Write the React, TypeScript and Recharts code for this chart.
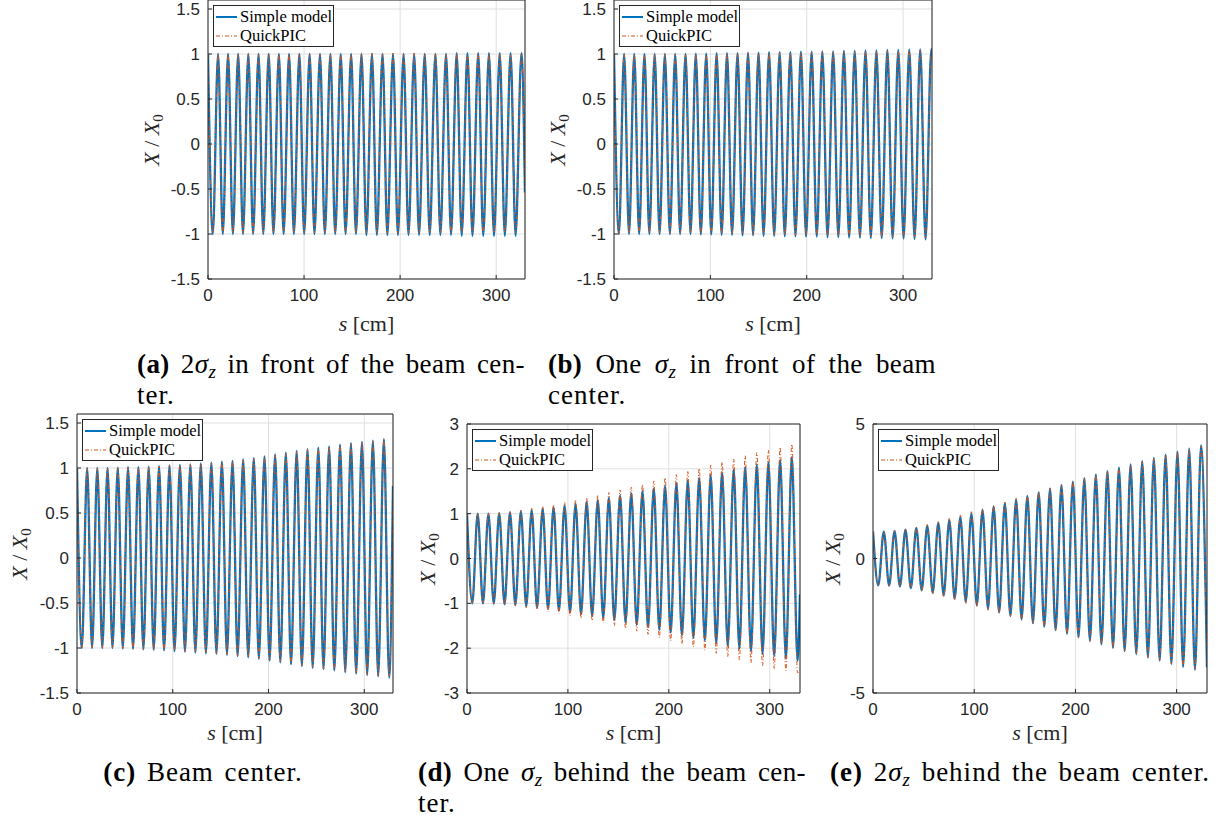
import React from "react";
import { LineChart, Line, XAxis, YAxis, CartesianGrid } from "recharts";

const BLUE = "#0072BD";
const ORANGE = "#D95319";
const INK = "#262626";
const GRID = "#dfdfdf";
const SERIF = '"Liberation Serif", "Times New Roman", serif';
const SANS = '"Liberation Sans", Arial, Helvetica, sans-serif';

const sTicks = [0, 100, 200, 300];
const ticksSmall = [-1.5, -1, -0.5, 0, 0.5, 1, 1.5];
const ticksD = [-3, -2, -1, 0, 1, 2, 3];
const ticksE = [-5, 0, 5];

// s [cm] of successive extrema (peak, trough, peak, ...), last entry = right edge
// (a) 2 sigma_z in front
const posA = [
	0, 5.0, 10.5, 15.4, 20.9, 25.9, 31.4, 36.4, 42.0, 46.9, 52.6, 57.5, 63.2, 68.1, 73.8, 78.7,
	84.4, 89.4, 95.1, 100.1, 105.8, 110.8, 116.6, 121.6, 127.4, 132.4, 138.2, 143.2, 149.0, 154.0,
	159.8, 164.9, 170.7, 175.8, 181.7, 186.7, 192.6, 197.7, 203.6, 208.7, 214.6, 219.7, 225.6, 230.8,
	236.7, 241.9, 247.8, 253.0, 258.9, 264.1, 270.1, 275.3, 281.3, 286.5, 292.5, 297.7, 303.7, 309.0,
	315.0, 320.2, 326.3, 330,
];
const simpleA = [
	1, -1, 1, -1, 1, -1, 1, -1, 1, -1, 1, -1, 1, -1, 1, -1, 1, -1, 1, -1, 1, -1, 1, -1, 1, -1, 1, -1, 1, -1,
	1, -1.01, 1, -1.01, 1, -1.01, 1, -1.01, 1, -1.01, 1, -1.01, 1, -1.01, 1, -1.01, 1, -1.01,
	1.01, -1.02, 1.01, -1.02, 1.01, -1.02, 1.01, -1.02, 1.01, -1.02, 1.01, -1.02,
	1.01, -0.54,
];
const quickA = [
	1, -0.99, 1, -0.99, 1, -0.99, 1, -0.99, 1, -0.99, 1, -0.99, 1, -0.99, 1, -0.99, 1, -0.99, 1, -0.99,
	1, -0.99, 1, -0.99, 1, -0.99, 1, -0.99, 1, -0.99, 1, -0.99, 1.01, -0.99, 1, -0.99, 1.01, -0.99,
	1, -0.99, 1.01, -0.99, 1, -0.99, 1.01, -0.99, 1, -0.99, 1.01, -0.99, 1, -0.99, 1.01, -0.99,
	1, -0.99, 1.01, -0.99, 1, -0.99, 1, -0.5,
];

// (b) one sigma_z in front
const posB = [
	0, 5.1, 10.5, 15.6, 21.0, 26.1, 31.6, 36.7, 42.2, 47.3, 52.8, 58.0, 63.5, 68.6, 74.2, 79.4,
	84.9, 90.1, 95.7, 100.9, 106.5, 111.7, 117.3, 122.5, 128.2, 133.4, 139.1, 144.3, 150.0, 155.2,
	160.9, 166.2, 171.9, 177.2, 183.0, 188.3, 194.0, 199.3, 205.1, 210.4, 216.2, 221.6, 227.4, 232.8,
	238.6, 244.0, 249.8, 255.2, 261.0, 266.5, 272.3, 277.8, 283.7, 289.1, 295.0, 300.5, 306.4, 311.9,
	317.8, 323.3, 329.3, 330,
];
const simpleB = [
	1, -1, 1, -1, 1, -1, 1, -1, 1, -1, 1, -1, 1, -1, 1, -1,
	1.005, -1.005, 1.005, -1.005, 1.01, -1.01, 1.01, -1.01, 1.01, -1.015, 1.015, -1.015, 1.015, -1.02, 1.02, -1.02,
	1.02, -1.025, 1.02, -1.025, 1.025, -1.03, 1.025, -1.03, 1.03, -1.035, 1.03, -1.035, 1.035, -1.04, 1.035, -1.04,
	1.04, -1.045, 1.04, -1.045, 1.045, -1.05, 1.045, -1.05, 1.05, -1.055, 1.05, -1.06,
	1.055, 1.05,
];
const quickB = [
	1, -1, 1, -0.99, 1, -0.99, 1, -0.99, 1, -0.99, 1, -0.99, 1, -0.99, 1, -0.99,
	1, -0.995, 1, -0.995, 1.005, -1, 1.005, -1, 1.005, -1, 1.01, -1.005, 1.01, -1.005, 1.01, -1.01,
	1.015, -1.01, 1.015, -1.015, 1.02, -1.015, 1.02, -1.02, 1.025, -1.02, 1.025, -1.025, 1.03, -1.025, 1.03, -1.03,
	1.035, -1.03, 1.035, -1.035, 1.04, -1.035, 1.04, -1.04, 1.045, -1.04, 1.045, -1.045,
	1.05, 1.04,
];

// (c) beam center
const posC = [
	0, 5.0, 10.6, 15.7, 21.2, 26.4, 31.9, 37.0, 42.6, 47.8, 53.3, 58.5, 64.1, 69.3, 74.9, 80.1,
	85.7, 90.9, 96.6, 101.8, 107.5, 112.7, 118.4, 123.6, 129.3, 134.6, 140.3, 145.6, 151.3, 156.6,
	162.4, 167.7, 173.5, 178.8, 184.6, 189.9, 195.8, 201.1, 206.9, 212.3, 218.1, 223.5, 229.4, 234.8,
	240.7, 246.1, 252.0, 257.4, 263.3, 268.7, 274.7, 280.1, 286.1, 291.5, 297.6, 303.0, 309.0, 314.5,
	320.5, 326.0, 330,
];
const simpleC = [
	1, -1, 1, -1, 1, -1, 1, -1, 1.005, -1.005, 1.01, -1.01, 1.01, -1.015, 1.015, -1.02, 1.02, -1.025, 1.03, -1.035,
	1.035, -1.04, 1.04, -1.05, 1.05, -1.06, 1.06, -1.065, 1.07, -1.075, 1.08, -1.09, 1.095, -1.105, 1.11, -1.12, 1.13, -1.14, 1.15, -1.16,
	1.17, -1.18, 1.19, -1.2, 1.21, -1.22, 1.225, -1.235, 1.24, -1.25, 1.26, -1.27, 1.275, -1.285, 1.29, -1.3, 1.305, -1.315, 1.32, -1.33,
	0.8,
];
const quickC = [
	1, -1, 1, -1, 1, -1, 1, -1, 1.005, -1.005, 1.01, -1.01, 1.01, -1.015, 1.015, -1.02, 1.02, -1.025, 1.03, -1.03,
	1.035, -1.04, 1.04, -1.045, 1.05, -1.055, 1.055, -1.065, 1.065, -1.075, 1.08, -1.085, 1.09, -1.1, 1.105, -1.115, 1.125, -1.135, 1.145, -1.155,
	1.165, -1.175, 1.185, -1.195, 1.205, -1.215, 1.22, -1.23, 1.235, -1.245, 1.255, -1.265, 1.27, -1.28, 1.285, -1.295, 1.3, -1.31, 1.315, -1.32,
	0.75,
];

// (d) one sigma_z behind
const posD = [
	0, 5.2, 10.6, 15.8, 21.2, 26.5, 31.9, 37.2, 42.6, 47.9, 53.4, 58.7, 64.1, 69.4, 75.0, 80.3,
	85.8, 91.1, 96.7, 102.1, 107.6, 113.0, 118.6, 124.0, 129.6, 135.0, 140.6, 146.0, 151.7, 157.1,
	162.8, 168.2, 173.9, 179.4, 185.1, 190.6, 196.3, 201.8, 207.5, 213.0, 218.8, 224.3, 230.1, 235.7,
	241.5, 247.0, 252.8, 258.4, 264.3, 269.9, 275.7, 281.4, 287.2, 292.9, 298.7, 304.4, 310.3, 316.0,
	321.9, 327.6, 330,
];
const simpleD = [
	1, -1, 1, -1, 1, -1.005, 1.01, -1.02, 1.03, -1.04, 1.05, -1.065, 1.08, -1.095, 1.11, -1.125, 1.14, -1.16, 1.18, -1.2,
	1.22, -1.24, 1.26, -1.28, 1.3, -1.325, 1.35, -1.375, 1.4, -1.425, 1.45, -1.475, 1.5, -1.53, 1.56, -1.59, 1.62, -1.65, 1.68, -1.71,
	1.74, -1.77, 1.8, -1.83, 1.86, -1.89, 1.92, -1.95, 1.98, -2.01, 2.04, -2.07, 2.1, -2.125, 2.15, -2.175, 2.2, -2.23, 2.26, -2.28,
	-0.8,
];
const quickD = [
	1, -1, 1, -1.005, 1.01, -1.015, 1.02, -1.035, 1.05, -1.065, 1.08, -1.1, 1.12, -1.14, 1.16, -1.18, 1.2, -1.225, 1.25, -1.275,
	1.3, -1.325, 1.35, -1.38, 1.41, -1.44, 1.47, -1.5, 1.53, -1.56, 1.59, -1.62, 1.65, -1.69, 1.73, -1.765, 1.8, -1.835, 1.87, -1.905,
	1.94, -1.975, 2.01, -2.045, 2.08, -2.115, 2.15, -2.185, 2.22, -2.255, 2.29, -2.325, 2.36, -2.39, 2.42, -2.45, 2.48, -2.5, 2.55, -2.55,
	-2.5,
];

// (e) 2 sigma_z behind
const posE = [
	0, 5.2, 10.7, 15.9, 21.3, 26.6, 32.1, 37.4, 42.8, 48.1, 53.6, 59.0, 64.5, 69.8, 75.4, 80.7,
	86.3, 91.6, 97.2, 102.6, 108.2, 113.6, 119.2, 124.6, 130.3, 135.7, 141.4, 146.8, 152.5, 158.0,
	163.7, 169.2, 174.9, 180.4, 186.2, 191.7, 197.5, 203.0, 208.8, 214.3, 220.2, 225.7, 231.6, 237.1,
	243.0, 248.6, 254.5, 260.1, 266.0, 271.6, 277.5, 283.2, 289.1, 294.8, 300.8, 306.4, 312.4, 318.1,
	324.1, 330,
];
const simpleE = [
	1, -1, 1, -1.01, 1.02, -1.04, 1.07, -1.1, 1.14, -1.18, 1.22, -1.27, 1.32, -1.37, 1.43, -1.49, 1.55, -1.61, 1.67, -1.73,
	1.8, -1.86, 1.93, -2, 2.06, -2.13, 2.2, -2.26, 2.33, -2.4, 2.46, -2.53, 2.6, -2.66, 2.73, -2.8, 2.86, -2.93, 2.99, -3.06,
	3.12, -3.19, 3.25, -3.32, 3.38, -3.44, 3.5, -3.56, 3.62, -3.68, 3.74, -3.8, 3.86, -3.92, 3.97, -4.03, 4.08, -4.14, 4.2, -4.05,
];
const quickE = [
	1, -1, 1, -1.02, 1.03, -1.06, 1.09, -1.13, 1.17, -1.22, 1.26, -1.32, 1.37, -1.44, 1.5, -1.56, 1.62, -1.68, 1.74, -1.8,
	1.86, -1.92, 1.98, -2.04, 2.1, -2.17, 2.23, -2.3, 2.35, -2.42, 2.48, -2.55, 2.61, -2.68, 2.74, -2.81, 2.87, -2.94, 3, -3.07,
	3.13, -3.2, 3.26, -3.32, 3.38, -3.44, 3.5, -3.56, 3.62, -3.68, 3.74, -3.8, 3.86, -3.92, 3.97, -4.02, 4.07, -4.12, 4.18, -4,
];

const legendNames = ["Simple model", "QuickPIC"];

type Row = { s: number; simple: number; quick: number };

function rows(pos: number[], simple: number[], quick: number[]): Row[] {
	return pos.map((s, i) => ({ s, simple: simple[i], quick: quick[i] }));
}

const PAD_L = 70;
const PAD_T = 20;
const PAD_R = 10;
const PAD_B = 34;

interface PanelProps {
	x: number;
	y: number;
	w: number;
	h: number;
	domain: [number, number];
	ticks: number[];
	data: Row[];
	ylabelX: number;
	xlabelY: number;
}

function Legend({ left, top }: { left: number; top: number }) {
	return (
		<div
			style={{
				position: "absolute",
				left,
				top,
				width: 121,
				height: 42,
				boxSizing: "border-box",
				border: `1px solid ${INK}`,
				background: "#fff",
				fontFamily: SERIF,
				fontSize: 16.5,
				color: "#000",
				paddingTop: 1,
			}}
		>
			{legendNames.map((name, i) => (
				<div key={name} style={{ display: "flex", alignItems: "center", height: 19, whiteSpace: "nowrap" }}>
					<svg width={22} height={6} style={{ marginLeft: 2, marginRight: 2 }}>
						{i === 0 ? (
							<line x1={0} y1={3} x2={21} y2={3} stroke={BLUE} strokeWidth={2} />
						) : (
							<line x1={0} y1={3} x2={21} y2={3} stroke={ORANGE} strokeWidth={1} strokeDasharray="4 2 1 2" />
						)}
					</svg>
					<span>{name}</span>
				</div>
			))}
		</div>
	);
}

function Panel({ x, y, w, h, domain, ticks, data, ylabelX, xlabelY }: PanelProps) {
	const tickStyle = { fill: INK, fontSize: 17, fontFamily: SANS };
	return (
		<>
			<div style={{ position: "absolute", left: x - PAD_L, top: y - PAD_T }}>
				<LineChart
					width={PAD_L + w + PAD_R}
					height={PAD_T + h + PAD_B}
					data={data}
					margin={{ top: PAD_T - 1, right: PAD_R - 1, bottom: 0, left: 0 }}
				>
					<CartesianGrid stroke={GRID} />
					<XAxis
						dataKey="s"
						type="number"
						domain={[0, 330]}
						ticks={sTicks}
						interval={0}
						allowDataOverflow
						height={PAD_B}
						stroke={INK}
						tickSize={-4}
						tickMargin={14}
						tick={tickStyle}
					/>
					<XAxis
						xAxisId="top"
						orientation="top"
						type="number"
						domain={[0, 330]}
						ticks={sTicks}
						interval={0}
						height={1}
						stroke={INK}
						tickSize={-4}
						tick={false}
					/>
					<YAxis
						type="number"
						domain={domain}
						ticks={ticks}
						interval={0}
						allowDataOverflow
						width={PAD_L}
						stroke={INK}
						tickSize={-4}
						tickMargin={12}
						tick={tickStyle}
					/>
					<YAxis
						yAxisId="right"
						orientation="right"
						type="number"
						domain={domain}
						ticks={ticks}
						interval={0}
						width={1}
						stroke={INK}
						tickSize={-4}
						tick={false}
					/>
					<Line
						type="monotone"
						dataKey="simple"
						stroke={BLUE}
						strokeWidth={2.3}
						dot={false}
						activeDot={false}
						isAnimationActive={false}
					/>
					<Line
						type="monotone"
						dataKey="quick"
						stroke={ORANGE}
						strokeWidth={1}
						strokeDasharray="4 2 1 2"
						dot={false}
						activeDot={false}
						isAnimationActive={false}
					/>
				</LineChart>
			</div>
			<Legend left={x + 5} top={y + 5} />
			<div
				style={{
					position: "absolute",
					left: ylabelX,
					top: y + h / 2,
					transform: "translate(-50%, -50%) rotate(-90deg)",
					whiteSpace: "nowrap",
					fontFamily: SERIF,
					fontSize: 22,
					lineHeight: "24px",
					color: INK,
				}}
			>
				<i>X</i> / <i>X</i>
				<sub style={{ fontSize: 15, lineHeight: 0, verticalAlign: "-4px" }}>0</sub>
			</div>
			<div
				style={{
					position: "absolute",
					left: x + w / 2,
					top: xlabelY,
					transform: "translate(-50%, -50%)",
					whiteSpace: "nowrap",
					fontFamily: SERIF,
					fontSize: 22,
					lineHeight: "24px",
					color: INK,
				}}
			>
				<i>s</i> [cm]
			</div>
		</>
	);
}

const capStyle: React.CSSProperties = {
	position: "absolute",
	width: 388,
	fontFamily: SERIF,
	fontSize: 27,
	lineHeight: "31px",
	letterSpacing: 1,
	wordSpacing: 3,
	whiteSpace: "nowrap",
	color: "#000",
};

const Sigma = () => (
	<>
		<i>σ</i>
		<sub style={{ fontSize: 19, lineHeight: 0, verticalAlign: "-5px" }}>
			<i>z</i>
		</sub>
	</>
);

function Caption({
	left,
	top,
	first,
	second,
	centered,
}: {
	left: number;
	top: number;
	first: React.ReactNode;
	second?: string;
	centered?: boolean;
}) {
	const lineStyle: React.CSSProperties = centered
		? { textAlign: "center" }
		: {
				textAlign: "justify",
				textAlignLast: "justify",
				whiteSpace: "normal",
				letterSpacing: 0.4,
				wordSpacing: 0,
			};
	return (
		<>
			<div style={{ ...capStyle, ...lineStyle, left, top }}>{first}</div>
			{second && <div style={{ ...capStyle, left, top: top + 31 }}>{second}</div>}
		</>
	);
}

export default function App() {
	return (
		<div
			style={{
				position: "absolute",
				left: 0,
				top: 0,
				width: 1217,
				height: 823,
				overflow: "hidden",
				background: "#fff",
			}}
		>
			<Panel x={208} y={0} w={317} h={279} domain={[-1.5, 1.6]} ticks={ticksSmall} data={rows(posA, simpleA, quickA)} ylabelX={152} xlabelY={324} />
			<Panel x={614} y={0} w={318} h={279} domain={[-1.5, 1.6]} ticks={ticksSmall} data={rows(posB, simpleB, quickB)} ylabelX={558} xlabelY={324} />
			<Panel x={77} y={414} w={316} h={279} domain={[-1.5, 1.6]} ticks={ticksSmall} data={rows(posC, simpleC, quickC)} ylabelX={20} xlabelY={733} />
			<Panel x={467} y={424} w={333} h={269} domain={[-3, 3]} ticks={ticksD} data={rows(posD, simpleD, quickD)} ylabelX={428} xlabelY={733} />
			<Panel x={873} y={424} w={334} h={269} domain={[-5, 5]} ticks={ticksE} data={rows(posE, simpleE, quickE)} ylabelX={833} xlabelY={733} />

			<Caption
				left={137}
				top={349}
				first={
					<>
						<b>(a)</b> 2<Sigma /> in front of the beam cen-
					</>
				}
				second="ter."
			/>
			<Caption
				left={548}
				top={349}
				first={
					<>
						<b>(b)</b> One <Sigma /> in front of the beam
					</>
				}
				second="center."
			/>
			<Caption
				left={9}
				top={757}
				centered
				first={
					<>
						<b>(c)</b> Beam center.
					</>
				}
			/>
			<Caption
				left={418}
				top={757}
				first={
					<>
						<b>(d)</b> One <Sigma /> behind the beam cen-
					</>
				}
				second="ter."
			/>
			<Caption
				left={826}
				top={757}
				centered
				first={
					<>
						<b>(e)</b> 2<Sigma /> behind the beam center.
					</>
				}
			/>
		</div>
	);
}
